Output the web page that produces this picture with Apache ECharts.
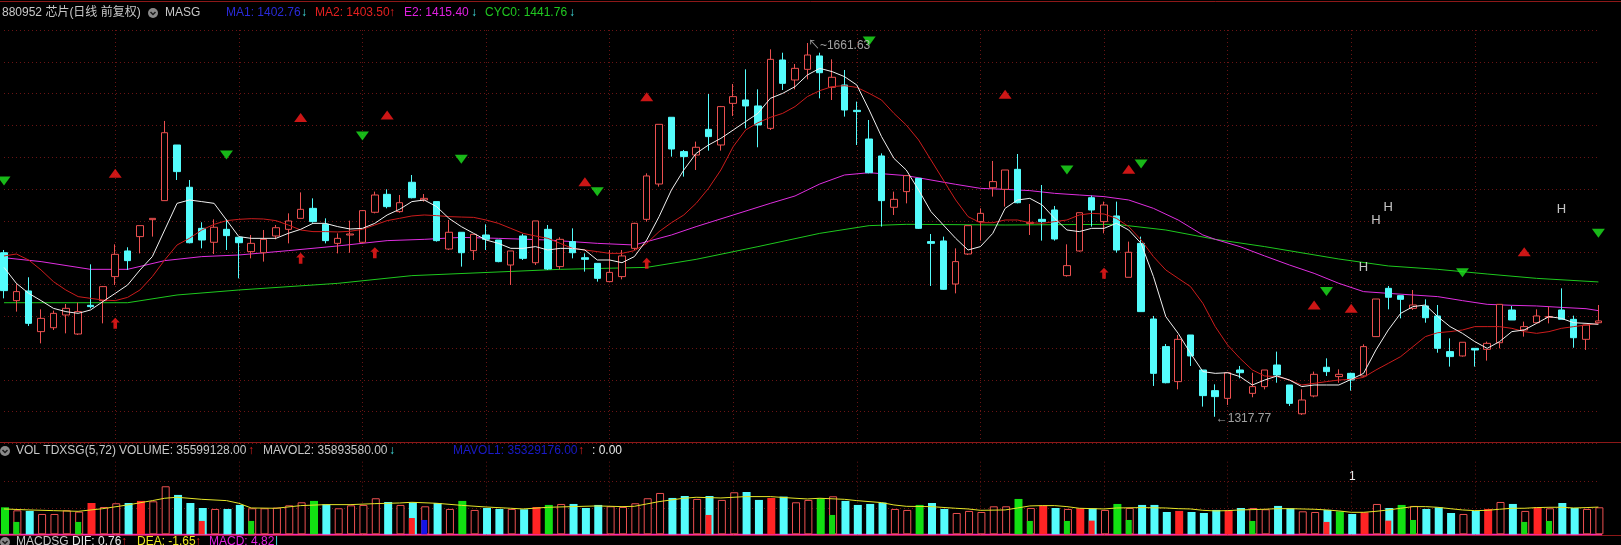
<!DOCTYPE html>
<html><head><meta charset="utf-8">
<script src="https://cdn.jsdelivr.net/npm/echarts@6/dist/echarts.min.js"></script>
<style>html,body{margin:0;padding:0;background:#000;}#c{width:1621px;height:545px;}</style>
</head><body><div id="c"></div>
<script>
// ---------- DATA ----------
const N = 130;
const categories = Array.from({length: N}, (_, i) => 'D' + (i + 1));

const open = [1468.7,1424.6,1433.5,1396.1,1399.7,1411.4,1393.9,1420.3,1424.6,1446.7,
1470.3,1483.5,1499.1,1516.6,1567.8,1528.9,1491.1,1478.3,1490.2,1482.9,
1469.7,1468.7,1484.1,1490.2,1500.3,1509.5,1494.8,1477.3,1485.0,1478.3,
1505.9,1522.4,1506.5,1533.5,1517.2,1515.7,1472.1,1487.5,1470.6,1485.0,
1480.4,1457.4,1484.1,1459.5,1490.2,1455.9,1478.9,1464.1,1458.9,1442.1,
1446.7,1472.7,1499.4,1531.9,1593.3,1561.7,1558.6,1582.2,1567.8,1606.1,
1609.2,1603.7,1583.1,1646.0,1627.6,1637.4,1649.7,1620.9,1623.0,1599.7,
1573.3,1557.7,1510.5,1524.9,1537.1,1478.9,1479.5,1439.9,1467.5,1497.3,
1528.5,1527.0,1545.4,1495.7,1499.4,1508.0,1447.6,1470.3,1519.3,1497.3,
1502.5,1446.1,1477.3,1407.7,1382.3,1350.1,1393.0,1360.8,1341.8,1334.7,
1360.8,1339.3,1345.5,1365.4,1347.0,1320.5,1336.9,1363.3,1354.7,1357.7,
1355.3,1391.5,1435.9,1429.2,1417.5,1419.7,1410.5,1377.7,1373.7,1380.7,
1379.8,1385.9,1416.0,1397.6,1404.3,1409.3,1416.0,1407.4,1389.0,1404.3];
const high = [1471.2,1440.5,1446.1,1416.6,1415.4,1421.5,1422.7,1458.0,1438.1,1476.4,
1473.7,1493.6,1500.3,1589.9,1567.8,1535.6,1496.7,1499.4,1499.4,1482.9,
1485.0,1489.6,1494.2,1504.9,1524.2,1518.7,1500.3,1486.5,1498.2,1508.0,
1524.9,1527.0,1521.8,1540.2,1522.7,1515.7,1498.8,1487.5,1485.6,1494.8,
1480.4,1470.3,1485.9,1497.9,1494.2,1482.9,1491.1,1468.1,1458.9,1471.2,
1471.2,1496.3,1541.7,1586.8,1593.3,1563.2,1570.9,1614.7,1603.7,1623.9,
1637.4,1619.0,1655.8,1652.7,1642.3,1661.63,1652.7,1646.6,1636.8,1607.7,
1590.8,1560.1,1524.9,1539.6,1537.1,1485.9,1483.5,1472.7,1493.6,1509.5,
1553.1,1544.8,1559.5,1513.5,1531.0,1511.7,1476.4,1505.5,1521.2,1515.7,
1515.7,1478.9,1483.5,1410.5,1384.7,1393.0,1393.0,1360.8,1347.6,1358.3,
1364.5,1358.3,1360.8,1377.7,1347.0,1343.0,1359.3,1371.5,1361.4,1358.3,
1384.4,1426.1,1438.1,1429.2,1434.4,1425.8,1420.6,1389.9,1386.3,1380.7,
1386.9,1421.2,1419.7,1405.3,1416.6,1419.1,1435.9,1410.8,1402.2,1420.6];
const low = [1426.7,1414.5,1401.3,1385.3,1397.6,1394.5,1393.0,1417.5,1403.7,1439.0,
1452.8,1468.1,1483.5,1516.6,1535.6,1477.3,1472.7,1467.5,1471.2,1445.1,
1463.5,1460.5,1481.0,1477.3,1500.3,1496.3,1477.3,1468.1,1468.7,1477.3,
1504.9,1509.5,1505.5,1518.7,1515.7,1478.9,1471.2,1455.9,1462.0,1471.2,
1459.9,1439.0,1462.0,1457.4,1452.8,1453.4,1463.5,1451.3,1442.1,1442.1,
1444.2,1471.2,1497.3,1529.5,1557.1,1538.7,1544.8,1562.6,1562.6,1594.5,
1583.1,1565.7,1581.6,1618.4,1619.0,1628.2,1610.7,1609.2,1593.9,1567.8,
1541.7,1492.7,1503.4,1514.1,1490.5,1438.1,1434.4,1431.3,1466.6,1479.8,
1520.3,1511.1,1514.1,1485.0,1479.8,1479.8,1446.7,1469.7,1492.7,1486.5,
1468.7,1446.1,1414.5,1346.1,1348.5,1343.0,1364.5,1327.1,1317.77,1328.6,
1353.1,1335.7,1343.0,1349.1,1327.7,1319.4,1335.7,1355.3,1349.1,1341.8,
1354.7,1391.5,1416.6,1408.3,1416.0,1404.3,1376.7,1363.9,1373.1,1363.9,
1369.4,1380.7,1406.8,1391.5,1403.7,1403.7,1407.4,1381.3,1379.2,1403.7];
const close = [1433.8,1432.9,1403.7,1408.3,1412.9,1417.5,1414.5,1419.1,1437.5,1467.2,
1461.4,1493.6,1500.3,1579.1,1543.3,1477.9,1480.4,1492.1,1484.4,1477.9,
1477.3,1481.0,1491.7,1497.9,1508.6,1497.3,1479.8,1481.9,1485.9,1507.4,
1521.8,1511.1,1514.7,1519.3,1518.7,1479.8,1487.5,1468.7,1485.6,1481.0,
1460.5,1470.3,1463.5,1497.9,1453.7,1481.0,1468.7,1462.6,1445.1,1450.6,
1465.7,1495.7,1539.3,1586.8,1564.1,1557.1,1565.7,1575.5,1603.1,1612.3,
1603.7,1586.2,1646.6,1624.5,1638.3,1650.6,1634.3,1630.1,1600.0,1598.5,
1542.3,1516.6,1517.8,1539.6,1491.1,1477.3,1435.0,1460.5,1493.6,1504.9,
1534.1,1544.8,1514.7,1496.6,1497.3,1481.3,1456.8,1505.5,1508.0,1512.6,
1471.2,1469.1,1414.5,1357.7,1349.1,1389.0,1373.7,1337.2,1336.3,1358.3,
1358.3,1345.5,1360.8,1356.2,1330.1,1333.2,1356.8,1359.3,1356.8,1351.6,
1382.3,1426.1,1427.7,1425.8,1420.6,1408.9,1380.7,1373.1,1386.3,1379.2,
1385.3,1421.2,1406.8,1400.7,1410.5,1409.9,1407.4,1390.5,1402.2,1405.9];

const ma1 = [1455.2,1440.5,1431.3,1424.6,1417.5,1414.5,1412.9,1416.0,1423.7,1431.3,
1439.0,1452.8,1465.1,1489.6,1514.1,1517.2,1515.7,1514.1,1498.8,1483.5,
1481.9,1481.9,1481.9,1486.5,1490.2,1495.7,1495.7,1492.7,1490.5,1491.1,
1495.7,1503.4,1508.6,1515.7,1517.2,1511.1,1500.3,1492.7,1486.5,1480.4,
1477.3,1472.7,1472.7,1474.3,1471.2,1472.7,1472.7,1471.2,1462.0,1462.0,
1459.5,1465.1,1480.4,1501.9,1526.4,1544.8,1560.1,1567.8,1573.9,1581.6,
1589.3,1596.9,1610.7,1615.3,1621.5,1632.2,1638.3,1635.3,1630.7,1623.0,
1600.0,1575.5,1555.5,1544.8,1526.4,1506.5,1494.2,1481.9,1471.2,1474.3,
1486.5,1509.5,1517.2,1518.7,1512.6,1500.3,1489.6,1488.1,1491.1,1491.1,
1495.7,1489.6,1477.3,1446.7,1409.9,1394.5,1376.1,1359.3,1357.7,1358.3,
1354.7,1347.0,1351.6,1355.3,1351.6,1345.5,1347.0,1347.0,1347.0,1352.2,
1357.7,1379.2,1397.6,1412.9,1419.1,1420.6,1409.9,1400.7,1394.5,1386.9,
1380.7,1386.9,1396.1,1397.6,1403.7,1409.9,1408.3,1404.3,1403.7,1402.8];
const ma2 = [1465.7,1467.5,1462.0,1452.8,1442.1,1434.4,1428.3,1426.7,1425.2,1424.6,
1427.6,1434.4,1446.7,1462.0,1475.8,1481.9,1489.6,1494.8,1498.2,1499.4,
1500.0,1499.7,1498.2,1494.2,1489.6,1488.1,1488.1,1487.8,1488.4,1490.2,
1494.2,1498.2,1500.3,1502.5,1503.4,1502.8,1501.9,1501.5,1501.2,1498.8,
1495.7,1491.1,1486.5,1484.1,1481.9,1477.3,1472.7,1471.2,1469.7,1468.1,
1468.1,1470.6,1477.3,1488.1,1496.3,1503.4,1514.1,1527.9,1544.8,1566.3,
1581.6,1588.3,1593.2,1596.9,1603.1,1612.3,1617.8,1621.5,1622.4,1620.8,
1615.3,1609.2,1596.9,1586.2,1572.4,1554.0,1535.6,1517.2,1501.9,1496.3,
1496.3,1498.8,1498.8,1496.3,1495.7,1497.3,1498.8,1503.4,1504.9,1504.3,
1500.3,1492.7,1480.4,1465.1,1452.8,1445.1,1437.5,1422.1,1400.7,1383.8,
1371.5,1360.8,1355.3,1354.7,1351.6,1347.0,1348.5,1350.1,1351.6,1352.2,
1354.0,1360.8,1366.9,1373.1,1382.3,1391.5,1395.1,1396.1,1397.6,1400.7,
1400.7,1400.7,1399.1,1396.1,1394.5,1396.1,1399.1,1400.7,1402.2,1403.5];
// E2 and CYC0 read at sample days
const e2Idx = [0,3,7,10,13,16,19,23,27,31,34,37,40,44,48,51,54,56,59,62,64,66,68,70,73,75,77,79,81,83,85,87,89,91,93,95,97,98,100,102,104,106,108,110,112,114,116,118,120,122,124,126,128,129];
const e2Val = [1464.1,1460.5,1453.4,1453.4,1461.4,1465.1,1466.6,1470.6,1474.9,1479.8,1481.0,1482.8,1481.9,1480.4,1477.3,1475.8,1485.0,1492.7,1503.4,1514.1,1520.9,1531.9,1540.2,1542.3,1539.6,1535.6,1531.6,1527.9,1527.0,1525.8,1523.3,1521.8,1520.3,1517.2,1509.5,1498.8,1485.0,1481.0,1474.3,1465.7,1457.4,1449.7,1440.5,1432.9,1431.3,1429.8,1428.3,1424.6,1421.2,1420.3,1419.7,1418.4,1417.2,1415.4];
const cycIdx = [0,10,14,19,27,33,45,52,56,61,66,70,73,81,90,94,98,102,108,112,116,120,124,129];
const cycVal = [1422.7,1422.7,1429.8,1434.4,1440.5,1447.6,1453.4,1455.2,1462.6,1474.3,1486.5,1493.6,1494.8,1494.2,1494.8,1489.6,1481.0,1474.3,1462.9,1456.5,1453.4,1449.1,1445.1,1441.8];

// signals: [day index, price level]
const redTriangles = [[9,1541.7],[24,1593.2],[31,1595.4],[47,1534.0],[52,1612.2],[81,1614.4],[91,1545.4],[106,1420.6],[109,1417.5],[123,1469.6]];
const greenTriangles = [[0,1534.7],[18,1558.6],[29,1576.1],[37,1554.6],[48,1524.8],[70,1663.5],[86,1544.8],[92,1550.3],[107,1432.9],[118,1450.3],[129,1486.5]];
const redArrows = [[9,1403.7],[24,1463.5],[30,1468.7],[52,1458.9],[89,1449.7]];
const hMarks = [[110,1455.2],[111,1498.8],[112,1510.4],[126,1508.6]];
const highMark = [65, 1661.63];
const lowMark = [98, 1317.77];

// volume (millions of shares)
const volume = [35.6,31.6,30.8,26.8,26.8,31.6,29.9,41.3,36.0,40.9,
41.3,44.0,43.5,63.3,51.9,41.3,34.7,33.4,33.4,38.7,
34.3,34.3,35.2,38.2,42.2,44.0,39.6,34.3,38.2,38.7,
47.5,42.6,38.7,42.2,36.9,41.3,33.4,44.0,32.1,34.7,
33.4,33.4,33.0,36.0,38.7,40.0,40.0,34.7,38.7,36.9,
36.0,40.9,47.5,54.5,47.9,50.5,46.6,50.5,45.3,55.4,
55.8,45.3,47.9,49.7,42.2,45.3,47.5,50.1,44.0,38.7,
40.0,41.8,33.4,32.1,38.7,41.3,33.4,28.1,30.8,29.4,
36.9,36.9,46.6,34.7,37.8,34.7,33.4,34.3,34.3,32.1,
40.0,34.7,38.7,38.7,29.4,30.8,29.4,28.1,32.1,31.6,
34.7,34.7,33.0,37.4,34.3,30.3,29.4,32.1,30.3,26.8,
29.0,40.0,34.7,38.7,37.4,33.4,35.6,28.1,26.8,30.8,
33.4,42.6,40.0,30.8,35.6,34.3,41.3,34.7,33.4,35.6];
// u = up (hollow), d = down (cyan), R = red signal bar, G = green signal bar
const volKind = [
  'GuduuuuRuu', 'dRuudddudd', 'uuuuuGduuu', 'udududuGud', 'dudRGudddu',
  'uuuudduduu', 'ddRduuGudd', 'dduuGdduuu', 'uuGuRduRdu', 'GudddRdddR',
  'duudduudGd', 'RudGudddud', 'RuduRudduu'
].join('').split('');
const subIdx = [1,6,16,20,33,34,57,67,83,86,88,91,101,107,112,114,123,125];
const subVal = [16.3,16.3,17.6,17.6,21.5,18.9,25.5,25.5,17.6,17.6,18.0,18.9,17.6,16.3,18.0,18.9,16.3,17.6];
const subKind = ['G','G','R','G','R','B','R','G','G','G','R','G','G','R','R','G','G','G'];
const mavolIdx = [0,2,4,6,8,10,12,13,14,16,18,19,20,22,24,26,28,30,32,33,35,37,39,41,42,44,46,48,50,51,52,53,54,55,56,58,60,62,64,65,66,68,69,71,72,73,75,77,78,79,81,82,83,84,85,86,87,89,90,92,94,95,96,97,98,99,100,102,103,104,106,107,108,109,110,111,112,113,114,115,116,117,118,119,120,121,122,123,124,125,126,127,128,129];
const mavolVal = [33.4,32.1,31.2,30.3,33.8,38.7,44.4,47.5,48.8,46.1,44.4,40.9,34.7,34.3,37.8,39.1,39.1,40.4,41.3,42.2,40.9,38.2,36.0,34.3,33.4,35.6,36.5,37.4,36.5,36.9,40.0,43.1,45.3,47.5,48.8,47.9,49.7,49.7,47.5,46.6,47.5,46.1,44.4,41.8,38.7,36.9,36.5,34.3,33.4,31.6,32.1,34.7,37.4,37.8,37.8,36.5,34.3,33.4,34.7,35.2,34.7,33.8,33.4,31.6,30.8,31.2,32.1,33.0,33.8,33.8,33.0,32.1,30.8,29.0,29.0,30.3,32.1,34.3,36.5,36.5,35.6,33.8,32.1,31.2,31.6,33.0,34.3,34.3,35.2,35.6,35.6,34.7,35.2,35.9];
const volGridLevels = [34.9, 69.3];

// ---------- STYLE ----------
const C = {
  up: '#ec5050', down: '#54fcfc', ma1: '#f0f0f0', ma2: '#cc1c1c', e2: '#e02ee0', cyc: '#1ec81e',
  grid: '#6a1414', sep: '#8c1818', txt: '#c8c8c8'
};
const FONT = '"Liberation Sans","Noto Sans CJK SC",sans-serif';
const volFill = {u: '#000000', d: '#54fcfc', R: '#ff2424', G: '#12e012'};
const subFill = {G: '#12d812', R: '#ff2424', B: '#1414e6'};

const volData = volume.map((v, i) => {
  const k = volKind[i] || 'u';
  return {value: v, itemStyle: k === 'u'
    ? {color: volFill.u, borderColor: C.up, borderWidth: 1}
    : {color: volFill[k], borderWidth: 0}};
});
const subData = volume.map(() => null);
subIdx.forEach((d, j) => { subData[d] = {value: subVal[j], itemStyle: {color: subFill[subKind[j]]}}; });

const candleData = categories.map((_, i) => [open[i], close[i], low[i], high[i]]);
const pairs = (idx, val) => idx.map((d, j) => [d, val[j]]);
const gridLineIdx = (i) => i % 10 === 9 && i < 129;

const texts = [];
function t(x, y, s, fill, size) {
  texts.push({type: 'text', x: x, y: y, silent: true, z: 10,
    style: {text: s, fill: fill, font: (size || 12) + 'px ' + FONT, textVerticalAlign: 'middle', verticalAlign: 'middle'}});
}
// top header
t(2, 13, '880952 芯片(日线 前复权)', C.txt);
t(165, 13, 'MASG', C.txt);
t(226, 13, 'MA1: 1402.76', '#2a2ad8'); t(301, 13, '↓', '#40e0e0');
t(315, 13, 'MA2: 1403.50', '#e42020'); t(389, 13, '↑', '#e42020');
t(404, 13, 'E2: 1415.40', '#e020e0'); t(471, 13, '↓', '#40e0e0');
t(485, 13, 'CYC0: 1441.76', '#20c820'); t(569, 13, '↓', '#40e0e0');
// volume header
t(16, 451, 'VOL TDXSG(5,72)', C.txt);
t(119, 451, 'VOLUME: 35599128.00', C.txt); t(248, 451, '↑', '#e42020');
t(263, 451, 'MAVOL2: 35893580.00', C.txt); t(389, 451, '↓', '#40e0e0');
t(453, 451, 'MAVOL1: 35329176.00', '#1a1ac8'); t(578, 451, '↑', '#e42020');
t(592, 451, ': 0.00', '#e8e8e8');
t(1349, 477, '1', '#e8e8e8');
// macd header (cut by bottom edge)
t(16, 542, 'MACDSG', C.txt);
t(72, 542, 'DIF: 0.76', '#e8e8e8'); t(121, 542, '↑', '#e42020');
t(137, 542, 'DEA: -1.65', '#e8e820'); t(195, 542, '↑', '#e42020');
t(209, 542, 'MACD: 4.82', '#e020e0'); t(275, 542, '|', '#40e0e0');

function icon(cx, cy) {
  return [
    {type: 'circle', shape: {cx: cx, cy: cy, r: 5}, style: {fill: '#8a8a8a'}, silent: true, z: 10},
    {type: 'polyline', shape: {points: [[cx - 2.5, cy - 1], [cx, cy + 1.5], [cx + 2.5, cy - 1]]}, style: {stroke: '#1a1a1a', lineWidth: 1.5, fill: null}, silent: true, z: 11}
  ];
}
function hline(x1, x2, y, color, w) {
  return {type: 'line', shape: {x1: x1, y1: y, x2: x2, y2: y}, style: {stroke: color, lineWidth: w || 1}, silent: true, z: 0};
}

const chart = echarts.init(document.getElementById('c'), null, {renderer: 'canvas'});
const xBase = {
  type: 'category', data: categories, boundaryGap: false,
  axisLine: {show: false}, axisTick: {show: false}, axisLabel: {show: false},
  splitLine: {show: true, interval: gridLineIdx, lineStyle: {color: C.grid, type: [1, 3], width: 1}}
};
chart.setOption({
  backgroundColor: '#000000',
  animation: false,
  grid: [
    {left: 4, right: 22.6, top: 30, height: 413.4},
    {left: 4, right: 22.6, top: 461.7, height: 72.6}
  ],
  xAxis: [Object.assign({gridIndex: 0}, xBase), Object.assign({gridIndex: 1}, xBase)],
  yAxis: [
    {gridIndex: 0, type: 'value', min: 1293.26, max: 1673.59, show: false, splitLine: {show: false}},
    {gridIndex: 0, type: 'value', min: 0, max: 13, interval: 1, axisLine: {show: false}, axisTick: {show: false}, axisLabel: {show: false},
      splitLine: {show: true, lineStyle: {color: C.grid, type: [1, 3], width: 1}}},
    {gridIndex: 1, type: 'value', min: 0, max: 95.7, show: false, splitLine: {show: false}}
  ],
  graphic: [
    hline(0, 1621, 1.5, C.sep),
    hline(0, 1621, 442.5, C.sep),
    hline(0, 1621, 535.5, C.sep),
    hline(0, 1602, 534.5, '#ff28b4', 1.5),
    ...icon(153, 13), ...icon(5, 451), ...icon(5, 542),
    ...texts
  ],
  series: [
    {type: 'line', xAxisIndex: 0, yAxisIndex: 0, data: pairs(cycIdx, cycVal), connectNulls: true, showSymbol: false, symbol: 'none',
      lineStyle: {color: C.cyc, width: 1}, silent: true, z: 2},
    {type: 'line', xAxisIndex: 0, yAxisIndex: 0, data: pairs(e2Idx, e2Val), connectNulls: true, showSymbol: false, symbol: 'none',
      lineStyle: {color: C.e2, width: 1}, silent: true, z: 2},
    {type: 'candlestick', xAxisIndex: 0, yAxisIndex: 0, data: candleData, barWidth: 7, clip: false, z: 3,
      itemStyle: {color: '#000000', color0: C.down, borderColor: C.up, borderColor0: C.down, borderWidth: 1}},
    {type: 'line', xAxisIndex: 0, yAxisIndex: 0, data: ma2, showSymbol: false, symbol: 'none',
      lineStyle: {color: C.ma2, width: 1}, silent: true, z: 4},
    {type: 'line', xAxisIndex: 0, yAxisIndex: 0, data: ma1, showSymbol: false, symbol: 'none',
      lineStyle: {color: C.ma1, width: 1}, silent: true, z: 5},
    {type: 'scatter', xAxisIndex: 0, yAxisIndex: 0, data: redTriangles, symbol: 'triangle', symbolSize: [13, 9],
      itemStyle: {color: '#ff1c1c'}, silent: true, z: 6},
    {type: 'scatter', xAxisIndex: 0, yAxisIndex: 0, data: greenTriangles, symbol: 'triangle', symbolRotate: 180, symbolSize: [13, 9],
      itemStyle: {color: '#1ee61e'}, silent: true, z: 6},
    {type: 'scatter', xAxisIndex: 0, yAxisIndex: 0, data: redArrows,
      symbol: 'path://M5,0 L10,5 L7,5 L7,12 L3,12 L3,5 L0,5 Z', symbolSize: [9, 11],
      itemStyle: {color: '#ff1c1c'}, silent: true, z: 6},
    {type: 'scatter', xAxisIndex: 0, yAxisIndex: 0, data: hMarks, symbolSize: 1, itemStyle: {color: 'rgba(0,0,0,0)'},
      label: {show: true, position: 'inside', formatter: 'H', color: '#f4f4f4', fontSize: 13, fontFamily: FONT}, silent: true, z: 6},
    {type: 'scatter', xAxisIndex: 0, yAxisIndex: 0, data: [highMark], symbolSize: 1, itemStyle: {color: 'rgba(0,0,0,0)'},
      label: {show: true, position: 'right', distance: 0, offset: [0, 3], formatter: '↖~1661.63', color: C.txt, fontSize: 12, fontFamily: FONT}, silent: true, z: 6},
    {type: 'scatter', xAxisIndex: 0, yAxisIndex: 0, data: [lowMark], symbolSize: 1, itemStyle: {color: 'rgba(0,0,0,0)'},
      label: {show: true, position: 'right', distance: 0, offset: [0, 2], formatter: '←1317.77', color: C.txt, fontSize: 12, fontFamily: FONT}, silent: true, z: 6},
    // dotted volume grid levels, drawn beneath the bars
    {type: 'line', xAxisIndex: 1, yAxisIndex: 2, data: volume.map(() => null), showSymbol: false, silent: true, z: 1,
      markLine: {silent: true, symbol: 'none', label: {show: false}, z: 1,
        lineStyle: {color: C.grid, type: [1, 3], width: 1}, data: volGridLevels.map(v => ({yAxis: v}))}},
    {type: 'bar', xAxisIndex: 1, yAxisIndex: 2, data: volData, barWidth: 8, clip: false, silent: true, z: 2},
    {type: 'bar', xAxisIndex: 1, yAxisIndex: 2, data: subData, barWidth: 6, barGap: '-100%', clip: false, silent: true, z: 3},
    {type: 'line', xAxisIndex: 1, yAxisIndex: 2, data: pairs(mavolIdx, mavolVal), connectNulls: true, showSymbol: false, symbol: 'none',
      lineStyle: {color: '#e6e628', width: 1}, silent: true, z: 4}
  ]
});
</script>
</body></html>
